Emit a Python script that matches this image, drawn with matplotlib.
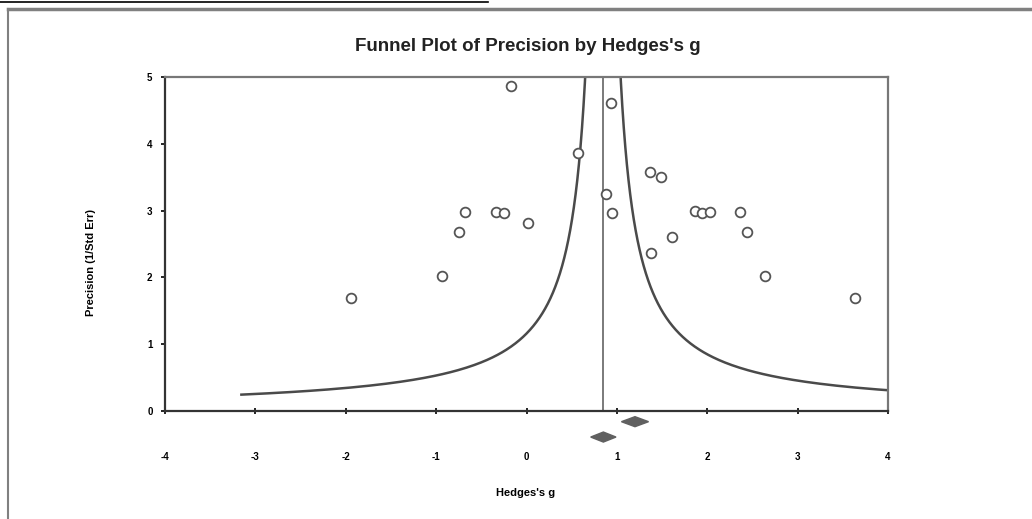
#!/usr/bin/env python3
"""Funnel plot of precision by Hedges's g."""

import numpy as np
import matplotlib
matplotlib.use("Agg")
import matplotlib.pyplot as plt
from matplotlib.lines import Line2D

plt.rcParams["font.family"] = ["Liberation Sans", "DejaVu Sans"]

# Study effects (Hedges's g) and precision (1/Std Err)
hedges_g = [-1.94, -0.935, -0.747, -0.681, -0.337, -0.249, -0.171, 0.017,
            0.570, 0.880, 0.935, 0.946, 1.367, 1.488, 1.378, 1.610,
            1.864, 1.942, 2.030, 2.362, 2.440, 2.639, 3.635]
precision = [1.69, 2.02, 2.68, 2.98, 2.98, 2.96, 4.87, 2.81,
             3.86, 3.25, 4.61, 2.96, 3.58, 3.50, 2.37, 2.60,
             2.99, 2.96, 2.98, 2.98, 2.68, 2.02, 1.69]

# Summary effect, funnel half-width constant, diamonds (centre, half-width, level)
summary_g = 0.845
funnel_k = 0.98
funnel_prec_min = 0.245
diamond_x = [0.85, 1.20]
diamond_hw = [0.14, 0.15]
diamond_y = [-0.39, -0.16]

x_ticks = [-4, -3, -2, -1, 0, 1, 2, 3, 4]
y_ticks = [0, 1, 2, 3, 4, 5]

fig = plt.figure(figsize=(10.32, 5.19), dpi=100)
ax = fig.add_axes([0.1599, 0.2081, 0.7006, 0.6435])

# funnel
prec = np.linspace(funnel_prec_min, 6, 600)
ax.plot(summary_g - funnel_k / prec, prec, color="#4a4a4a", lw=1.8)
ax.plot(summary_g + funnel_k / prec, prec, color="#4a4a4a", lw=1.8)
ax.axvline(summary_g, color="#707070", lw=1.3)

ax.plot(hedges_g, precision, "o", ms=7, mfc="white", mec="#555555", mew=1.3,
        linestyle="none", zorder=5)

# summary diamonds below the axis
for cx, hw, cy in zip(diamond_x, diamond_hw, diamond_y):
    dh = 0.075
    ax.fill([cx - hw, cx, cx + hw, cx], [cy, cy + dh, cy, cy - dh],
            color="#606060", clip_on=False, zorder=6)

ax.set_xlim(-4, 4)
ax.set_ylim(0, 5)
ax.set_xticks(x_ticks)
ax.set_yticks(y_ticks)
ax.set_xticklabels([str(t) for t in x_ticks], fontsize=7, fontweight="bold")
ax.set_yticklabels([str(t) for t in y_ticks], fontsize=7, fontweight="bold")
ax.tick_params(axis="x", direction="inout", length=5, width=1.2, pad=27)
ax.tick_params(axis="y", direction="out", length=3, width=1.2, pad=6)

for side in ["bottom", "left"]:
    ax.spines[side].set_color("#333333")
    ax.spines[side].set_linewidth(1.6)
for side in ["top", "right"]:
    ax.spines[side].set_color("#777777")
    ax.spines[side].set_linewidth(1.6)

fig.text(0.511, 0.911, "Funnel Plot of Precision by Hedges's g",
         ha="center", va="center", fontsize=13.5, fontweight="bold",
         color="#222222")
fig.text(0.509, 0.050, "Hedges's g", ha="center", va="center",
         fontsize=8, fontweight="bold")
fig.text(0.088, 0.495, "Precision (1/Std Err)", ha="center", va="center",
         rotation=90, fontsize=8, fontweight="bold")

# outer frame of the original screenshot
fig.add_artist(Line2D([8 / 1032, 1], [1 - 9 / 519, 1 - 9 / 519],
                      color="#808080", lw=2.5, transform=fig.transFigure))
fig.add_artist(Line2D([8 / 1032, 8 / 1032], [0, 1 - 9 / 519],
                      color="#808080", lw=1.5, transform=fig.transFigure))
fig.add_artist(Line2D([0, 488 / 1032], [1 - 1.5 / 519, 1 - 1.5 / 519],
                      color="black", lw=1.2, transform=fig.transFigure))

fig.savefig("out.png", dpi=100)
